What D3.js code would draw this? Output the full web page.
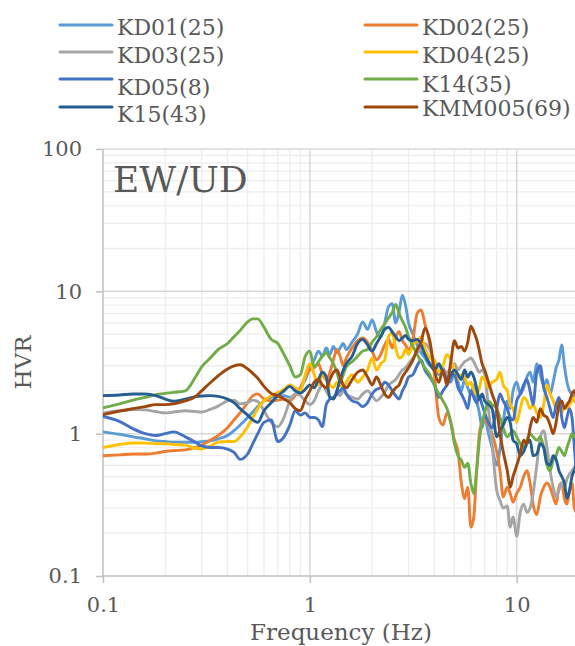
<!DOCTYPE html>
<html><head><meta charset="utf-8">
<script src="https://cdn.jsdelivr.net/npm/d3@7"></script>
<style>body{margin:0;background:#fff}svg{display:block}text{font-family:"DejaVu Serif",serif;fill:#595959}</style>
</head><body><svg id="c" width="575" height="646"></svg>
<script>
const freqs = [0.1,0.12,0.14,0.16,0.18,0.2,0.22,0.25,0.28,0.3,0.33,0.36,0.4,0.43,0.46,0.5,0.53,0.56,0.6,0.65,0.7,0.75,0.8,0.85,0.9,0.95,1.0,
1.05,1.1,1.15,1.2,1.25,1.3,1.35,1.4,1.45,1.5,1.6,1.7,1.8,1.9,2.0,2.1,2.2,2.3,2.4,2.5,2.6,2.7,2.8,2.9,3.0,3.15,3.3,3.45,3.6,3.8,4.0,4.2,4.4,4.6,4.8,5.0,5.2,5.4,5.6,5.8,6.0,6.2,6.4,6.6,6.8,7.0,7.3,7.6,8.0,8.3,8.6,9.0,9.3,9.6,10,10.4,10.8,11.2,11.6,12,12.5,13,13.5,14,14.5,15,15.5,16,16.5,17,17.5,18,18.5,19,19.5,20];

const kd01 = [1.03,0.99,0.95,0.92,0.89,0.88,0.87,0.87,0.87,0.88,0.89,0.92,0.97,1.05,1.15,1.3,1.42,1.55,1.7,1.8,1.85,1.85,1.8,1.9,2.1,2.4,2.9,
3.3,3.8,3.5,4.0,3.6,4.1,3.7,4.0,4.3,3.9,
4.4,5.0,6.1,5.4,6.3,
5.2,4.8,6.0,7.8,8.2,6.0,7.2,9.4,8.0,6.0,
5.0,4.2,3.7,3.4,3.0,2.9,
2.6,2.9,2.5,2.3,2.7,
2.3,2.0,2.4,2.1,1.9,2.2,1.7,1.4,1.1,1.3,
1.0,0.8,0.6,0.78,1.2,1.7,1.5,2.0,2.3,
1.9,2.1,2.5,2.7,2.3,
3.1,2.6,2.2,2.4,1.9,2.3,2.9,3.3,4.2,3.0,2.3,2.0,1.9,1.7,1.8,1.6];

const kd02 = [0.70,0.71,0.72,0.72,0.73,0.75,0.76,0.77,0.8,0.83,0.9,0.97,1.1,1.25,1.4,1.65,1.85,1.9,1.75,1.7,1.72,1.75,1.7,1.85,2.1,2.5,2.8,
2.9,3.1,2.6,2.4,2.7,3.3,3.9,3.5,3.0,3.4,
4.0,4.5,4.7,4.4,3.8,
3.3,3.6,4.2,4.6,4.0,4.8,5.2,4.5,4.2,3.9,
4.6,7.0,7.4,5.9,4.3,2.6,
1.3,1.15,1.4,1.2,0.9,
0.75,0.45,0.35,0.42,0.22,0.26,0.55,1.0,1.2,1.25,
1.15,1.0,0.75,0.55,0.36,0.42,0.38,0.33,0.38,
0.42,0.5,0.55,0.45,0.32,
0.27,0.36,0.42,0.45,0.42,0.36,0.32,0.42,0.45,0.35,0.32,0.4,0.45,0.3,0.28,0.35];

const kd03 = [1.4,1.45,1.48,1.47,1.43,1.4,1.42,1.45,1.43,1.42,1.48,1.56,1.7,1.72,1.62,1.65,1.72,1.68,1.45,1.2,1.12,1.3,1.7,1.9,1.85,1.7,1.6,
1.7,2.0,2.2,2.0,1.8,1.75,1.9,1.85,2.0,1.9,
1.8,1.75,1.9,2.0,1.85,
1.7,1.8,1.95,2.2,2.3,2.4,2.6,2.8,2.9,3.1,
3.4,3.7,4.0,4.3,3.9,3.2,
3.0,2.8,2.7,2.9,3.1,
2.8,3.0,3.2,3.3,3.4,3.2,2.9,2.7,2.8,2.6,
1.5,0.85,0.4,0.34,0.3,0.31,0.22,0.26,0.19,
0.28,0.32,0.28,0.3,0.38,
0.6,0.95,1.05,0.8,0.55,0.42,0.36,0.4,0.45,0.42,0.48,0.52,0.55,0.58,0.62,0.6];

const kd04 = [0.8,0.84,0.86,0.86,0.85,0.85,0.84,0.83,0.79,0.78,0.82,0.87,0.88,0.88,0.95,1.12,1.3,1.5,1.7,1.85,1.95,2.05,2.2,2.1,2.0,2.6,3.1,
2.6,2.2,2.7,2.4,2.2,2.1,2.3,2.2,2.1,2.3,
2.6,2.3,2.5,2.8,3.4,
2.8,3.1,3.3,4.8,5.1,4.0,3.4,3.5,3.9,3.6,
4.2,4.5,4.8,4.0,3.4,3.3,
2.7,3.0,3.6,3.3,2.8,
2.4,2.6,2.5,2.2,2.3,2.0,1.9,2.1,2.5,2.4,
2.1,2.3,2.4,2.7,2.2,2.0,1.6,1.5,1.2,
1.5,1.8,1.7,1.5,1.6,
1.4,1.3,1.6,2.2,1.9,1.7,1.5,1.6,1.4,1.55,1.5,1.6,1.7,1.8,1.6,1.7];

const kd05 = [1.32,1.22,1.08,1.0,0.97,1.0,1.03,0.95,0.87,0.82,0.8,0.8,0.78,0.74,0.66,0.72,0.85,1.0,1.2,1.25,0.88,0.95,1.15,1.45,1.35,1.4,1.3,
1.3,1.25,1.12,1.6,1.75,1.8,1.9,2.0,2.1,1.9,
1.7,1.65,1.55,1.65,1.9,
2.05,2.1,2.3,2.2,2.0,1.85,1.75,2.0,2.2,2.5,
2.6,3.0,3.3,2.8,2.5,2.2,
1.8,2.0,2.2,2.5,2.6,
2.1,1.9,1.7,1.5,2.0,1.8,1.65,1.8,1.6,1.4,
1.2,1.1,1.5,1.9,1.7,1.5,1.3,1.25,1.7,
1.9,2.2,2.4,2.0,1.6,
2.7,3.0,2.1,1.8,1.5,1.3,1.6,1.8,1.3,1.1,1.3,1.5,1.3,0.8,0.5,0.45];

const k14 = [1.52,1.62,1.72,1.8,1.88,1.92,1.95,2.0,2.5,2.95,3.4,3.9,4.3,4.8,5.3,6.1,6.4,6.4,5.6,4.6,4.3,3.6,3.0,2.5,2.6,3.5,3.8,
2.95,3.2,3.5,3.7,3.4,3.1,2.7,2.3,2.6,2.95,
3.2,3.5,3.8,3.9,4.4,
4.8,5.4,5.9,6.5,7.1,8.1,7.0,6.2,5.6,4.8,
4.1,3.6,3.2,2.9,2.6,2.2,
1.9,1.7,1.5,1.2,0.85,
0.7,0.65,0.58,0.62,0.45,0.38,0.55,0.9,1.2,1.4,
1.7,1.6,1.5,1.3,1.1,0.95,1.0,1.05,0.95,
0.85,0.8,0.9,1.0,0.95,
0.9,0.95,0.8,0.6,0.55,0.65,0.7,0.8,0.75,0.7,0.8,0.9,1.0,0.95,1.0,1.0];

const k15 = [1.85,1.87,1.9,1.9,1.85,1.75,1.69,1.75,1.82,1.84,1.85,1.83,1.75,1.65,1.5,1.35,1.25,1.2,1.45,1.65,1.85,2.0,2.15,2.0,1.93,2.05,2.2,
2.1,2.4,2.7,2.5,1.8,1.75,2.0,2.4,2.8,3.1,
3.5,4.3,4.6,4.2,3.8,
4.3,4.8,5.4,5.6,5.2,4.8,4.5,4.7,4.9,4.6,
4.5,4.6,4.2,3.6,3.1,2.8,
3.1,2.7,2.4,2.6,2.8,
2.6,2.4,2.8,2.5,2.7,2.5,2.1,1.75,1.9,1.7,
1.6,1.5,0.95,1.05,1.15,1.3,1.2,0.9,0.85,
0.7,0.75,0.85,0.9,0.7,
0.72,0.85,0.8,0.62,0.6,0.7,0.66,0.55,0.5,0.45,0.35,0.4,0.5,0.55,0.6,0.58];

const kmm005 = [1.36,1.44,1.5,1.55,1.6,1.6,1.62,1.7,1.82,2.0,2.28,2.55,2.85,3.0,3.05,2.85,2.65,2.45,2.15,1.92,1.85,1.75,1.65,1.5,1.45,1.75,2.0,
2.3,2.4,2.2,2.1,2.4,2.7,2.8,2.5,2.2,2.1,
2.4,2.7,2.8,2.5,2.2,
2.5,2.2,1.9,1.8,1.95,2.1,2.2,2.5,2.7,2.9,
3.3,3.9,4.4,5.5,4.5,2.8,
2.3,2.8,2.2,3.2,4.5,
4.0,4.1,3.8,4.4,5.7,5.2,4.6,3.8,3.1,2.8,
2.3,1.9,1.5,1.0,0.75,0.55,0.42,0.5,0.6,
0.72,0.9,0.85,1.1,1.3,
1.2,1.5,1.35,1.3,1.15,1.0,1.2,1.6,1.7,1.5,1.6,1.7,1.9,2.0,1.8,2.0];

const seriesNames = ["KD01(25)","KD02(25)","KD03(25)","KD04(25)","KD05(8)","K14(35)","K15(43)","KMM005(69)"];
const seriesValues = [kd01,kd02,kd03,kd04,kd05,k14,k15,kmm005];
const seriesColors = ["#5B9BD5","#ED7D31","#A5A5A5","#FFC000","#4472C4","#70AD47","#255E91","#9E480E"];
const xTicks = [0.1,1,10];
const xTickLabels = ["0.1","1","10"];
const yTicks = [0.1,1,10,100];
const yTickLabels = ["0.1","1","10","100"];
const title = "EW/UD";
const xTitle = "Frequency (Hz)";
const yTitle = "HVR";

const L = 103, R = 579, T = 149, B = 576;
const svg = d3.select("#c");
const x = d3.scaleLog().domain([0.1, 20]).range([L, R]);
const y = d3.scaleLog().domain([0.1, 100]).range([B, T]);

// minor grid
const xMinor = [], yMinor = [];
[0.1, 1, 10].forEach(d => { for (let k = 2; k <= 9; k++) { const v = d * k; if (v <= 20) xMinor.push(v); } });
xMinor.push(20);
[0.1, 1, 10].forEach(d => { for (let k = 2; k <= 9; k++) yMinor.push(d * k); });

const grid = svg.append("g");
grid.selectAll(".xm").data(xMinor).join("line")
  .attr("x1", d => x(d)).attr("x2", d => x(d)).attr("y1", T).attr("y2", B)
  .attr("stroke", "#eeeeee").attr("stroke-width", 1.3);
grid.selectAll(".ym").data(yMinor).join("line")
  .attr("x1", L).attr("x2", R).attr("y1", d => y(d)).attr("y2", d => y(d))
  .attr("stroke", "#eeeeee").attr("stroke-width", 1.3);
grid.selectAll(".xM").data(xTicks.slice(1)).join("line")
  .attr("x1", d => x(d)).attr("x2", d => x(d)).attr("y1", T).attr("y2", B)
  .attr("stroke", "#d9d9d9").attr("stroke-width", 1.5);
grid.selectAll(".yM").data(yTicks.slice(1)).join("line")
  .attr("x1", L).attr("x2", R).attr("y1", d => y(d)).attr("y2", d => y(d))
  .attr("stroke", "#d9d9d9").attr("stroke-width", 1.5);

// axes
const xAxis = d3.axisBottom(x).tickValues(xTicks).tickFormat((d, i) => xTickLabels[i]).tickSize(7).tickPadding(14);
const yAxis = d3.axisLeft(y).tickValues(yTicks).tickFormat((d, i) => yTickLabels[i]).tickSize(7).tickPadding(14);
const gx = svg.append("g").attr("transform", `translate(0,${B})`).call(xAxis);
const gy = svg.append("g").attr("transform", `translate(${L},0)`).call(yAxis);
[gx, gy].forEach(g => {
  g.select(".domain").attr("stroke", "#bfbfbf").attr("stroke-width", 1.5);
  g.selectAll(".tick line").attr("stroke", "#bfbfbf").attr("stroke-width", 1.5);
  g.selectAll(".tick text").attr("fill", "#595959").style("font-family", "DejaVu Serif").style("font-size", "21px");
});
gx.select(".domain").attr("d", `M${L},0H${R}`);
gy.select(".domain").attr("d", `M0,${B}V${T}`);

// clip
svg.append("clipPath").attr("id", "clip").append("rect")
  .attr("x", L).attr("y", T - 2).attr("width", R - L).attr("height", B - T + 2);

const line = d3.line().x(d => x(d[0])).y(d => y(d[1])).curve(d3.curveMonotoneX);
svg.append("g").attr("clip-path", "url(#clip)")
  .selectAll("path").data(seriesValues).join("path")
  .attr("d", vals => line(freqs.map((f, i) => [f, vals[i]])))
  .attr("fill", "none")
  .attr("stroke", (d, i) => seriesColors[i])
  .attr("stroke-width", 2.9)
  .attr("stroke-linejoin", "round")
  .attr("stroke-linecap", "round");

// title inside plot
svg.append("text").attr("x", 113).attr("y", 192).style("font-size", "36px").text(title);

// axis titles
svg.append("text").attr("x", (L + R) / 2).attr("y", 640).attr("text-anchor", "middle")
  .style("font-size", "23px").text(xTitle);
svg.append("text").attr("transform", `translate(31,${(T + B) / 2}) rotate(-90)`).attr("text-anchor", "middle")
  .style("font-size", "23px").text(yTitle);

// legend
const legPos = [
  {lx: 60, ly: 25, ty: 35}, {lx: 365, ly: 25, ty: 35},
  {lx: 60, ly: 52, ty: 63}, {lx: 365, ly: 52, ty: 63},
  {lx: 60, ly: 79, ty: 95}, {lx: 365, ly: 79, ty: 92},
  {lx: 60, ly: 107, ty: 122}, {lx: 365, ly: 107, ty: 116}
];
const leg = svg.append("g");
seriesNames.forEach((name, i) => {
  const p = legPos[i];
  leg.append("line").attr("x1", p.lx).attr("x2", p.lx + 52).attr("y1", p.ly).attr("y2", p.ly)
    .attr("stroke", seriesColors[i]).attr("stroke-width", 3).attr("stroke-linecap", "round");
  leg.append("text").attr("x", p.lx + 57).attr("y", p.ty).style("font-size", "22px").text(name);
});
</script></body></html>
